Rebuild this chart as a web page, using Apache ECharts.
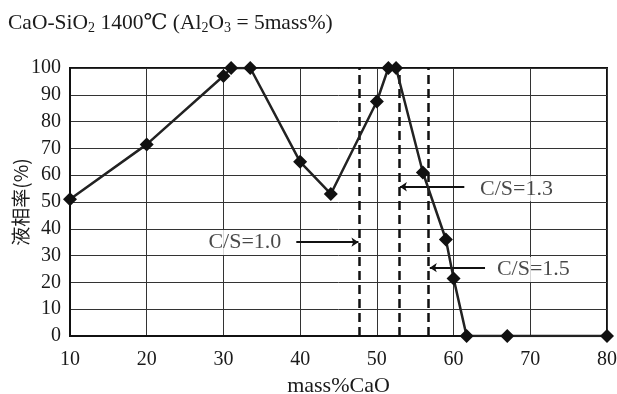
<!DOCTYPE html>
<html>
<head>
<meta charset="utf-8">
<script src="https://cdn.jsdelivr.net/npm/echarts@6/dist/echarts.min.js"></script>
<style>
  html, body { margin: 0; padding: 0; background: #fff; }
  #chart { width: 617px; height: 394px; }
</style>
</head>
<body>
<div id="chart"></div>
<script>
// mass%CaO vs liquid fraction
const cao = [10, 20, 30, 31, 33.5, 40, 44, 50, 51.5, 52.5, 56, 59, 60, 61.7, 67, 80];
const liquid = [51, 71.5, 97, 100, 100, 65, 53, 87.5, 100, 100, 61, 36, 21.5, 0, 0, 0];

// C/S ratio dashed lines
const csX = [47.7, 52.9, 56.7];
const csLabels = ["C/S=1.0", "C/S=1.3", "C/S=1.5"];
// label box centres and arrow start/end
const labelX = [32.8, 68.2, 70.4];
const labelY = [34.9, 54.9, 24.8];
const arrowFrom = [[39.5, 35], [61.4, 55.7], [64.1, 25.5]];
const arrowTo = [[47.6, 35], [53.0, 55.7], [56.9, 25.5]];

const serif = "Liberation Serif, DejaVu Serif";
const chart = echarts.init(document.getElementById("chart"));

const options = {
  animation: false,
  title: {
    text: "CaO-SiO{sub|2} 1400℃ (Al{sub|2}O{sub|3} = 5mass%)",
    left: 3,
    top: 7,
    textStyle: {
      fontFamily: serif,
      fontSize: 21.5,
      fontWeight: "normal",
      color: "#1a1a1a",
      rich: {
        sub: { fontFamily: serif, fontSize: 14, color: "#1a1a1a", verticalAlign: "bottom", padding: [9, 0, 0, 0] },
      },
    },
  },
  grid: {
    left: 70,
    right: 10,
    top: 68,
    bottom: 58,
    outerBoundsMode: "none",
    show: true,
    borderColor: "#111",
    borderWidth: 2,
  },
  xAxis: {
    type: "value",
    min: 10,
    max: 80,
    interval: 10,
    name: "mass%CaO",
    nameLocation: "middle",
    nameGap: 39,
    nameMoveOverlap: false,
    nameTextStyle: { fontFamily: serif, fontSize: 22, color: "#1a1a1a" },
    axisLine: { lineStyle: { color: "#111", width: 2 } },
    axisTick: { show: false },
    axisLabel: { fontFamily: serif, fontSize: 20, color: "#1a1a1a", margin: 14 },
    splitLine: { lineStyle: { color: "#333", width: 1 } },
  },
  yAxis: {
    type: "value",
    min: 0,
    max: 100,
    interval: 10,
    name: "液相率(%)",
    nameLocation: "middle",
    nameGap: 40,
    nameMoveOverlap: false,
    nameRotate: 90,
    nameTextStyle: { fontFamily: "Noto Sans CJK JP", fontSize: 19, color: "#1a1a1a" },
    axisLine: { lineStyle: { color: "#111", width: 2 } },
    axisTick: { show: false },
    axisLabel: { fontFamily: serif, fontSize: 20, color: "#1a1a1a", margin: 9 },
    splitLine: { lineStyle: { color: "#333", width: 1 } },
  },
  series: [
    {
      type: "line",
      data: cao.map((x, i) => [x, liquid[i]]),
      symbol: "diamond",
      symbolSize: 14,
      itemStyle: { color: "#111" },
      lineStyle: { color: "#222", width: 2.5 },
      z: 5,
      markLine: {
        silent: true,
        symbol: "none",
        label: { show: false },
        lineStyle: { color: "#111", width: 2.5, type: [9, 5] },
        data: csX.map((x) => ({ xAxis: x })),
      },
    },
    {
      type: "lines",
      coordinateSystem: "cartesian2d",
      symbol: ["none", "arrow"],
      symbolSize: 7,
      lineStyle: { color: "#111", width: 1.8, opacity: 1 },
      data: arrowFrom.map((p, i) => ({ coords: [p, arrowTo[i]] })),
      z: 4,
    },
    {
      type: "scatter",
      data: labelX.map((x, i) => [x, labelY[i]]),
      symbolSize: 0,
      z: 3,
      label: {
        show: true,
        position: "inside",
        formatter: (p) => csLabels[p.dataIndex],
        fontFamily: serif,
        fontSize: 22,
        color: "#1a1a1a",
        backgroundColor: "#fff",
        padding: [2, 9, 1, 9],
      },
    },
  ],
};

chart.setOption(options);
</script>
</body>
</html>
